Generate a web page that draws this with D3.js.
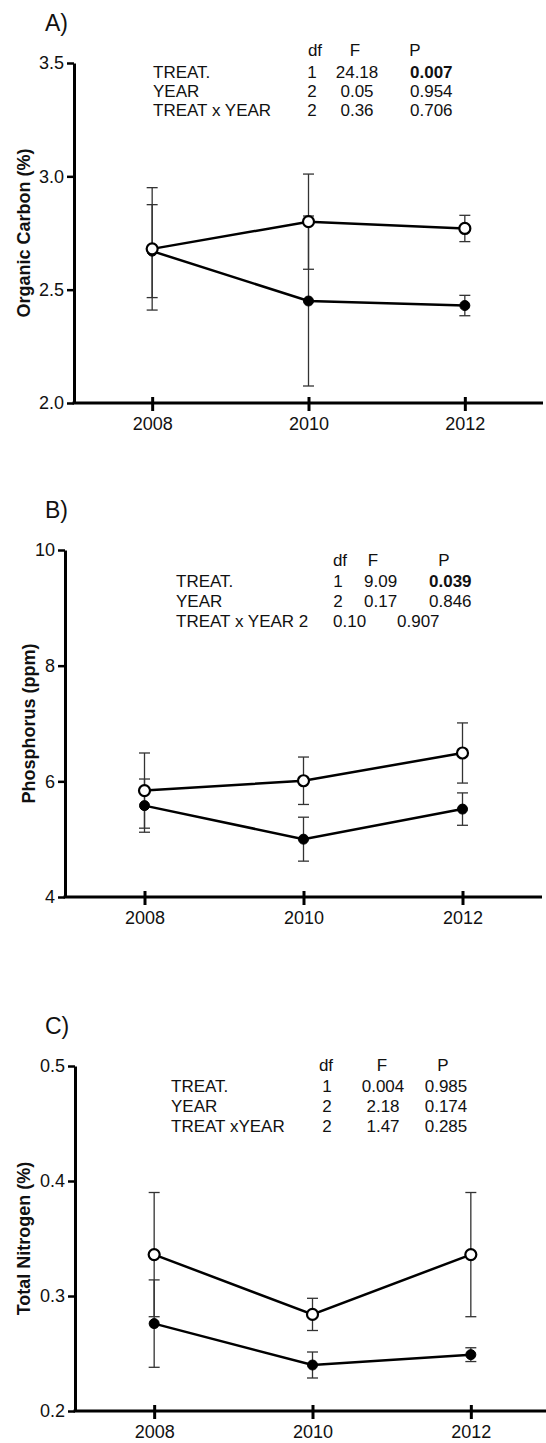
<!doctype html>
<html>
<head>
<script src="https://d3js.org/d3.v7.min.js"></script>
<style>
  body { margin: 0; background: #fff; }
  text { font-family: "Liberation Sans", Arial, Helvetica, sans-serif; fill: #111; }
</style>
</head>
<body>
<script>
// ---- data ----
var years = [2008, 2010, 2012];

// A) organic carbon (%)
var carbonOpen = [2.68, 2.80, 2.77];
var carbonOpenErr = [0.27, 0.21, 0.058];
var carbonFilled = [2.67, 2.45, 2.43];
var carbonFilledErr = [0.205, 0.375, 0.045];
var carbonTicks = [2.0, 2.5, 3.0, 3.5];

// B) phosphorus (ppm)
var phosOpen = [5.84, 6.01, 6.49];
var phosOpenErr = [0.65, 0.41, 0.52];
var phosFilled = [5.58, 5.00, 5.52];
var phosFilledErr = [0.46, 0.38, 0.28];
var phosTicks = [4, 6, 8, 10];

// C) total nitrogen (%)
var nitroOpen = [0.336, 0.284, 0.336];
var nitroOpenErr = [0.054, 0.014, 0.054];
var nitroFilled = [0.276, 0.240, 0.249];
var nitroFilledErr = [0.038, 0.0113, 0.006];
var nitroTicks = [0.2, 0.3, 0.4, 0.5];

// anova tables
var statHead = ["df", "F", "P"];
var rowsA = ["TREAT.", "YEAR", "TREAT x YEAR"];
var dfA = ["1", "2", "2"];
var fA = ["24.18", "0.05", "0.36"];
var pA = ["0.007", "0.954", "0.706"];

var rowsB = ["TREAT.", "YEAR", "TREAT x YEAR 2"];
var dfB = ["1", "2", ""];
var fB = ["9.09", "0.17", "0.10"];
var pB = ["0.039", "0.846", "0.907"];

var rowsC = ["TREAT.", "YEAR", "TREAT xYEAR"];
var dfC = ["1", "2", "2"];
var fC = ["0.004", "2.18", "1.47"];
var pC = ["0.985", "0.174", "0.285"];

var W = 546, H = 1443;
var svg = d3.select("body").append("svg").attr("width", W).attr("height", H);

// layout for each panel
var panels = [
  { label: "A)", labelY: 31, title: "Organic Carbon (%)", titleX: 24,
    top: 63, bottom: 403, left: 74, right: 543, yDomain: [2, 3.5], ticks: carbonTicks, fmt: d3.format(".1f"),
    open: carbonOpen, openErr: carbonOpenErr, filled: carbonFilled, filledErr: carbonFilledErr,
    rows: rowsA, df: dfA, f: fA, p: pA, boldFirstP: true,
    tab: { headY: 56, rowY: 78, step: 19, labelX: 153, headX: [315, 355, 415], dfX: 312, fX: 357, fAnchor: "middle", pX: 410, pAnchor: "start" } },
  { label: "B)", labelY: 518, title: "Phosphorus (ppm)", titleX: 29,
    top: 550, bottom: 897, left: 65, right: 542, yDomain: [4, 10], ticks: phosTicks, fmt: d3.format("d"),
    open: phosOpen, openErr: phosOpenErr, filled: phosFilled, filledErr: phosFilledErr,
    rows: rowsB, df: dfB, f: fB, p: pB, boldFirstP: true,
    tab: { headY: 566, rowY: 587, step: 20, labelX: 176, headX: [340, 373, 444], dfX: 338, fX: 364, fAnchor: "start", pX: 429, pAnchor: "start",
           shift: { 2: { fX: 333, pX: 397 } } } },
  { label: "C)", labelY: 1034, title: "Total Nitrogen (%)", titleX: 24,
    top: 1066, bottom: 1411, left: 75, right: 550, yDomain: [0.2, 0.5], ticks: nitroTicks, fmt: d3.format(".1f"),
    open: nitroOpen, openErr: nitroOpenErr, filled: nitroFilled, filledErr: nitroFilledErr,
    rows: rowsC, df: dfC, f: fC, p: pC, boldFirstP: false,
    tab: { headY: 1071, rowY: 1092, step: 20, labelX: 171, headX: [326, 382, 443], dfX: 327, fX: 383, fAnchor: "middle", pX: 446, pAnchor: "middle" } }
];

panels.forEach(drawPanel);

function drawPanel(c) {
  var g = svg.append("g");
  var x = d3.scaleLinear().domain([2007, 2013]).range([c.left, c.right]);
  var y = d3.scaleLinear().domain(c.yDomain).range([c.bottom, c.top]);

  // panel letter
  g.append("text").attr("x", 45).attr("y", c.labelY)
    .style("font-size", "23px").text(c.label);

  // y axis
  var ya = g.append("g").attr("transform", "translate(" + c.left + ",0)")
    .call(d3.axisLeft(y).tickValues(c.ticks).tickFormat(c.fmt).tickSize(7).tickSizeOuter(0).tickPadding(3));
  ya.select(".domain").attr("stroke", "#000").attr("stroke-width", 3);
  ya.selectAll(".tick line").attr("stroke", "#000").attr("stroke-width", 2.5);
  ya.selectAll(".tick text").style("font-size", "18px").attr("fill", "#111");

  // x axis
  var xa = g.append("g").attr("transform", "translate(0," + c.bottom + ")")
    .call(d3.axisBottom(x).tickValues(years).tickFormat(d3.format("d")).tickSize(8).tickSizeOuter(0));
  xa.select(".domain").attr("stroke", "#000").attr("stroke-width", 3)
    .attr("d", "M" + (c.left - 1.5) + ",0H" + Math.min(c.right, W));
  xa.selectAll(".tick line").attr("stroke", "#000").attr("stroke-width", 3).attr("y1", -6).attr("y2", 8);
  xa.selectAll(".tick text").style("font-size", "18px").attr("fill", "#111")
    .attr("y", 27).attr("dy", null);

  // y title
  g.append("text")
    .attr("transform", "translate(" + c.titleX + "," + ((c.top + c.bottom) / 2) + ") rotate(-90)")
    .attr("text-anchor", "middle").attr("dominant-baseline", "central")
    .style("font-size", "18px").style("font-weight", "bold").text(c.title);

  // error bars
  var series = [
    { v: c.filled, e: c.filledErr, open: false },
    { v: c.open, e: c.openErr, open: true }
  ];
  series.forEach(function (s) {
    var eb = g.append("g").attr("stroke", "#333").attr("stroke-width", 1.3);
    years.forEach(function (yr, i) {
      var cx = x(yr);
      eb.append("line").attr("x1", cx).attr("x2", cx)
        .attr("y1", y(s.v[i] - s.e[i])).attr("y2", y(s.v[i] + s.e[i]));
      [s.v[i] - s.e[i], s.v[i] + s.e[i]].forEach(function (val) {
        eb.append("line").attr("x1", cx - 5.5).attr("x2", cx + 5.5)
          .attr("y1", y(val)).attr("y2", y(val));
      });
    });
  });

  // lines
  var line = d3.line().x(function (d, i) { return x(years[i]); }).y(function (d) { return y(d); });
  series.forEach(function (s) {
    g.append("path").datum(s.v).attr("d", line)
      .attr("fill", "none").attr("stroke", "#000").attr("stroke-width", 2.5);
  });

  // markers
  series.forEach(function (s) {
    g.selectAll(null).data(s.v).enter().append("circle")
      .attr("cx", function (d, i) { return x(years[i]); })
      .attr("cy", function (d) { return y(d); })
      .attr("r", s.open ? 5.5 : 5)
      .attr("fill", s.open ? "#fff" : "#000")
      .attr("stroke", "#000").attr("stroke-width", s.open ? 2.2 : 1);
  });

  // anova table
  var t = c.tab;
  var tb = g.append("g").style("font-size", "17px");
  statHead.forEach(function (h, k) {
    tb.append("text").attr("x", t.headX[k]).attr("y", t.headY).attr("text-anchor", "middle").text(h);
  });
  c.rows.forEach(function (r, i) {
    var yy = t.rowY + i * t.step;
    var sh = (t.shift && t.shift[i]) || {};
    tb.append("text").attr("x", t.labelX).attr("y", yy).text(r);
    tb.append("text").attr("x", t.dfX).attr("y", yy).attr("text-anchor", "middle").text(c.df[i]);
    tb.append("text").attr("x", sh.fX || t.fX).attr("y", yy)
      .attr("text-anchor", sh.fX ? "start" : t.fAnchor).text(c.f[i]);
    tb.append("text").attr("x", sh.pX || t.pX).attr("y", yy)
      .attr("text-anchor", sh.pX ? "start" : t.pAnchor)
      .style("font-weight", (c.boldFirstP && i === 0) ? "bold" : "normal").text(c.p[i]);
  });
}
</script>
</body>
</html>
